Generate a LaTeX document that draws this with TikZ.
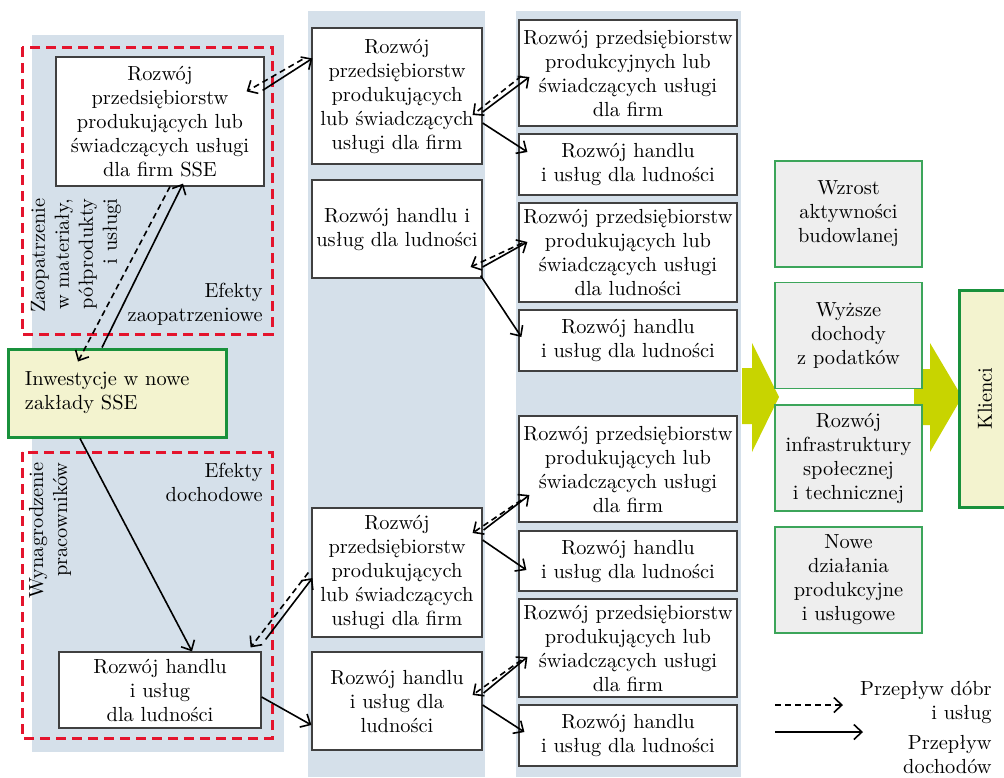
\documentclass[tikz,border=0pt]{standalone}
\usepackage{fontspec}
\usetikzlibrary{arrows.meta}
\definecolor{bandblue}{RGB}{213,224,234}
\definecolor{effred}{RGB}{228,20,45}
\definecolor{ssegreen}{RGB}{25,145,60}
\definecolor{effgreen}{RGB}{60,165,90}
\definecolor{sseyellow}{RGB}{243,243,207}
\definecolor{effgray}{RGB}{238,238,238}
\definecolor{bigarrow}{RGB}{200,212,0}
\tikzset{
  box/.style={draw=black!75,line width=0.6pt,fill=white,align=center,inner xsep=2pt,inner ysep=1pt},
  midbox/.style={box,minimum width=85pt},
  endbox/.style={box,minimum width=109pt},
  effbox/.style={draw=effgreen,line width=0.6pt,fill=effgray,align=center,minimum width=73.5pt,minimum height=53pt},
  ssebox/.style={draw=ssegreen,line width=1.5pt,fill=sseyellow},
  effzone/.style={draw=effred,line width=1.5pt,dash pattern=on 5pt off 3pt},
  goods/.style={line width=0.8pt,dash pattern=on 3pt off 2pt,-{Straight Barb[length=4pt,width=7.5pt]}},
  income/.style={line width=0.8pt,-{Straight Barb[length=4pt,width=7.5pt]}},
  bigflow/.style={fill=bigarrow,draw=none},
}
\begin{document}
\begin{tikzpicture}[x=0.5pt,y=-0.5pt,font=\fontsize{10.2}{12}\selectfont]
\useasboundingbox (0,0) rectangle (1004,777);
% tla kolumn
\fill[bandblue] (32,35) rectangle (284,752);
\fill[bandblue] (308,11) rectangle (485,777);
\fill[bandblue] (516,11) rectangle (741,777);
% strefy efektow
\draw[effzone] (22,47) rectangle (272,334);
\draw[effzone] (22,452) rectangle (272,738);
% duze strzalki
\fill[bigflow] (742,368) -- (752,368) -- (752,343) -- (779,397) -- (752,452) -- (752,424) -- (742,424) -- cycle;
\fill[bigflow] (914,369) -- (930,369) -- (930,343) -- (962,397) -- (930,452) -- (930,425) -- (914,425) -- cycle;
% kolumna 1
\node[box,minimum width=104pt,minimum height=64.5pt] (sseFirm) at (160,121.5) {Rozwój\\przedsiębiorstw\\produkujących lub\\świadczących usługi\\dla firm SSE};
\node[ssebox,text width=92pt,inner xsep=8.5pt,align=left,minimum height=44pt] (sseInv) at (117,393) {Inwestycje w nowe\\zakłady SSE};
\node[box,minimum width=101pt,minimum height=38pt] (sseTrade) at (160,690) {Rozwój handlu\\i usług\\dla ludności};
\node[rotate=90,align=right,anchor=east,inner sep=0pt] (supplyLbl) at (76,198) {Zaopatrzenie\\w materiały,\\półprodukty\\i usługi};
\node[rotate=90,align=right,anchor=east,inner sep=0pt] (wageLbl) at (50,462) {Wynagrodzenie\\pracowników};
\node[align=right,anchor=north east,inner sep=0pt] (supplyEff) at (263,283) {Efekty\\zaopatrzeniowe};
\node[align=right,anchor=north east,inner sep=0pt] (incomeEff) at (263,463) {Efekty\\dochodowe};
% kolumna 2
\node[midbox,minimum height=68pt] (firm1) at (397,96) {Rozwój\\przedsiębiorstw\\produkujących\\lub świadczących\\usługi dla firm};
\node[midbox,minimum height=49pt] (trade1) at (397,229) {Rozwój handlu i\\usług dla ludności};
\node[midbox,minimum height=64.5pt] (firm2) at (397,572.5) {Rozwój\\przedsiębiorstw\\produkujących\\lub świadczących\\usługi dla firm};
\node[midbox,minimum height=49pt] (trade2) at (397,701) {Rozwój handlu\\i usług dla\\ludności};
% kolumna 3
\node[endbox,minimum height=53pt] (firm11) at (628,73) {Rozwój przedsiębiorstw\\produkcyjnych lub\\świadczących usługi\\dla firm};
\node[endbox,minimum height=30.5pt] (trade11) at (628,164.5) {Rozwój handlu\\i usług dla ludności};
\node[endbox,minimum height=49.5pt] (firm12) at (628,252.5) {Rozwój przedsiębiorstw\\produkujących lub\\świadczących usługi\\dla ludności};
\node[endbox,minimum height=30.5pt] (trade12) at (628,340.5) {Rozwój handlu\\i usług dla ludności};
\node[endbox,minimum height=53pt] (firm21) at (628,469) {Rozwój przedsiębiorstw\\produkujących lub\\świadczących usługi\\dla firm};
\node[endbox,minimum height=30pt] (trade21) at (628,561) {Rozwój handlu\\i usług dla ludności};
\node[endbox,minimum height=49pt] (firm22) at (628,648) {Rozwój przedsiębiorstw\\produkujących lub\\świadczących usługi\\dla firm};
\node[endbox,minimum height=30.5pt] (trade22) at (628,735.5) {Rozwój handlu\\i usług dla ludności};
% efekty koncowe
\node[effbox] (build) at (848.5,214) {Wzrost\\aktywności\\budowlanej};
\node[effbox] (tax) at (848.5,335.5) {Wyższe\\dochody\\z podatków};
\node[effbox] (infra) at (848.5,458) {Rozwój\\infrastruktury\\społecznej\\i technicznej};
\node[effbox] (newact) at (848.5,580) {Nowe\\działania\\produkcyjne\\i usługowe};
\node[ssebox,rotate=90,minimum width=108.5pt,minimum height=26pt] (clients) at (985,398.5) {Klienci};
% przeplywy w kolumnie 1
\draw[goods] ([shift={(-9,32)}]firm1.north west) -- ([shift={(-18,35)}]sseFirm.north east);
\draw[income] ([shift={(-2,34)}]sseFirm.north east) -- ([shift={(1,31)}]firm1.north west);
\draw[income] ([shift={(-15,0)}]sseInv.north) -- ([shift={(23,-3)}]sseFirm.south);
\draw[goods] ([shift={(10,0)}]sseFirm.south) -- ([shift={(-39,14)}]sseInv.north);
\draw[income] ([shift={(-37,0)}]sseInv.south) -- ([shift={(32,0)}]sseTrade.north);
\draw[goods] ([shift={(-3,0)}]firm2.west) -- ([shift={(-11,-4)}]sseTrade.north east);
\draw[income] ([shift={(4,-12)}]sseTrade.north east) -- ([shift={(1,5.5)}]firm2.west);
\draw[income] ([shift={(0,7)}]sseTrade.east) -- ([shift={(0,24)}]trade2.west);
% przeplywy do kolumny 3
\draw[goods] ([shift={(3,3)}]firm11.west) -- ([shift={(-10,19)}]firm1.east);
\draw[income] ([shift={(0,16)}]firm1.east) -- ([shift={(11,4)}]firm11.west);
\draw[income] ([shift={(0,27)}]firm1.east) -- ([shift={(9,-12.5)}]trade11.west);
\draw[goods] ([shift={(4,-9.5)}]firm12.west) -- ([shift={(-12,38)}]trade1.east);
\draw[income] ([shift={(0,38)}]trade1.east) -- ([shift={(9,-10.5)}]firm12.west);
\draw[income] ([shift={(-2,-3)}]trade1.south east) -- ([shift={(3,-3.5)}]trade12.west);
\draw[goods] ([shift={(3,31)}]firm21.west) -- ([shift={(-10,-39.5)}]firm2.east);
\draw[income] ([shift={(1,-42.5)}]firm2.east) -- ([shift={(11,26)}]firm21.west);
\draw[income] ([shift={(0,-32.5)}]firm2.east) -- ([shift={(8,9)}]trade21.west);
\draw[goods] ([shift={(3,12)}]firm22.west) -- ([shift={(-10,-6)}]trade2.east);
\draw[income] ([shift={(1,-8)}]trade2.east) -- ([shift={(9,9)}]firm22.west);
\draw[income] ([shift={(0,4)}]trade2.east) -- ([shift={(6,-3.5)}]trade22.west);
% legenda
\coordinate (goodsA) at (775,705);
\coordinate (goodsB) at (843,705);
\coordinate (incomeA) at (775,732);
\coordinate (incomeB) at (863,732);
\draw[goods] (goodsA) -- (goodsB);
\draw[income] (incomeA) -- (incomeB);
\node[align=right,anchor=north east,inner sep=0pt] (goodsLbl) at (992,681) {Przepływ dóbr\\i usług};
\node[align=right,anchor=north east,inner sep=0pt] (incomeLbl) at (992,735) {Przepływ\\dochodów};
\end{tikzpicture}
\end{document}
